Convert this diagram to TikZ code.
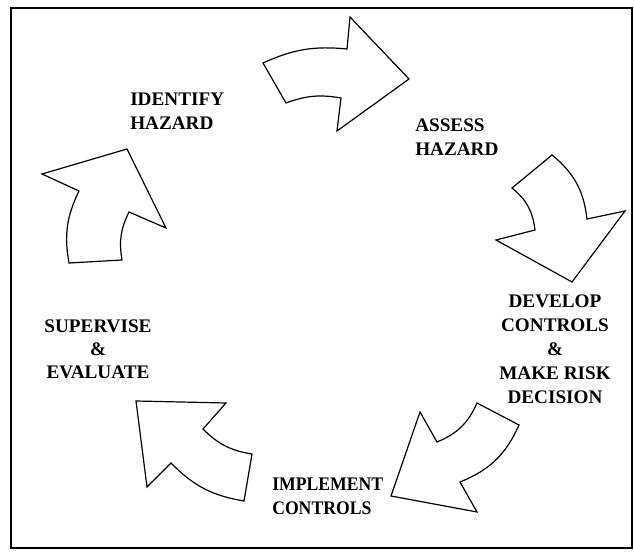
\documentclass[tikz,border=0pt]{standalone}
\usepackage{fontspec}
\setmainfont{Liberation Serif}

\begin{document}
\begin{tikzpicture}[x=0.75pt, y=0.75pt,
    cyclearrow/.style={draw, line width=0.9pt, line join=miter, fill=white},
    steplabel/.style={font=\bfseries\fontsize{14.4}{18}\selectfont, inner sep=0pt}]
    \useasboundingbox (0,0) rectangle (634,557);
    % Outer frame.
    \draw[line width=1.1pt] (11,9) rectangle (632,549);
    % Steps of the cycle.
    \node[steplabel, align=left, anchor=north west] (identify) at (130,464) {IDENTIFY\\HAZARD};
    \node[steplabel, align=left, anchor=north west] (assess) at (415,438) {ASSESS\\HAZARD};
    \node[steplabel, align=center, anchor=north] (develop) at (555,262) {DEVELOP\\CONTROLS\\\&\\MAKE RISK\\DECISION};
    \node[steplabel, align=left, anchor=north west, xscale=0.92, transform shape] (implement) at (272,79) {IMPLEMENT\\CONTROLS};
    \node[steplabel, align=center, anchor=north, font=\bfseries\fontsize{14.4}{17}\selectfont] (supervise) at (98,237) {SUPERVISE\\\&\\EVALUATE};
    % Arrows between the steps.
    \draw[cyclearrow] (263,494) to[bend left=15] (347,508) -- (350,540) -- (409,478)
        -- (337,426) -- (341,459) to[bend right=15] (286,454) -- cycle;
    \draw[cyclearrow] (512,369) -- (552,402) to[bend left=22] (587,338) -- (625,346)
        -- (572,275) -- (496,317) -- (535,327) to[bend right=22] cycle;
    \draw[cyclearrow] (477,154) -- (519,132) to[bend left=22] (460,75) -- (477,45)
        -- (391,61) -- (420,145) -- (437,115) to[bend right=22] cycle;
    \draw[cyclearrow] (136,156) -- (226,154) -- (203,128) to[bend right=18] (252,103)
        -- (244,56) to[bend left=18] (171,94) -- (147,70) -- cycle;
    \draw[cyclearrow] (42,383) -- (127,408) -- (166,329) -- (129,345) to[bend right=18] (122,297)
        -- (69,294) to[bend left=18] (79,366) -- cycle;
\end{tikzpicture}
\end{document}
